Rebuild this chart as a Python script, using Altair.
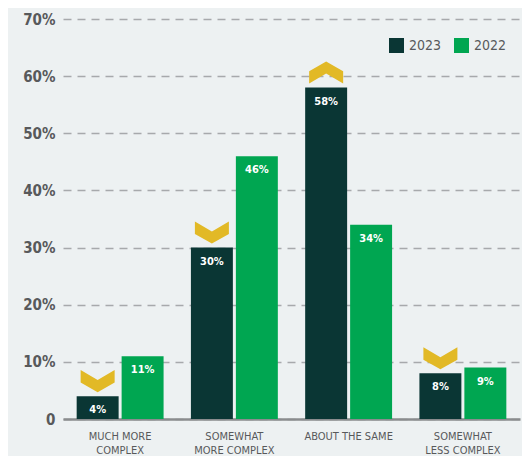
import altair as alt
import pandas as pd

categories = ["MUCH MORE|COMPLEX", "SOMEWHAT|MORE COMPLEX", "ABOUT THE SAME", "SOMEWHAT|LESS COMPLEX"]
years = ["2023", "2022"]
values_2023 = [4, 30, 58, 8]
values_2022 = [11, 46, 34, 9]

rows = []
for c, v23, v22 in zip(categories, values_2023, values_2022):
    rows.append({"Category": c, "Year": "2023", "Value": v23, "Other": v22})
    rows.append({"Category": c, "Year": "2022", "Value": v22, "Other": v23})
df = pd.DataFrame(rows)

FONT = "DejaVu Sans Condensed, sans-serif"
DARK = "#0a3634"
GREEN = "#00a651"
YELLOW = "#e2b926"
GREY = "#58595b"

down_path = "M-1,-0.65 L0,-0.06 L1,-0.65 L1,0.08 L0,0.65 L-1,0.08 Z"
up_path = "M-1,0.65 L0,0.06 L1,0.65 L1,-0.08 L0,-0.65 L-1,-0.08 Z"

x_enc = alt.X("Category:N", sort=categories,
              scale=alt.Scale(paddingInner=0, paddingOuter=0),
              axis=alt.Axis(title=None, labelAngle=0, labelExpr="split(datum.label, '|')",
                            labelFont=FONT, labelFontSize=11, labelColor=GREY,
                            labelPadding=11, labelLineHeight=14, ticks=False,
                            domainColor="#8a8c8e", domainWidth=2.5, grid=False,
                            labelBaseline="top"))
xo_enc = alt.XOffset("Year:N", sort=years,
                     scale=alt.Scale(domain=years, paddingInner=0.0667, paddingOuter=0.304))
y_enc = alt.Y("Value:Q", scale=alt.Scale(domain=[0, 70], nice=False),
              axis=alt.Axis(title=None, values=[0, 10, 20, 30, 40, 50, 60, 70],
                            labelExpr="datum.value == 0 ? '0' : datum.value + '%'",
                            labelFont=FONT, labelFontSize=15, labelFontWeight="bold",
                            labelColor=GREY, labelPadding=8, ticks=False, domain=False,
                            grid=True, gridDash=[8, 6], gridColor="#a7a9ac", gridWidth=1.5))

base = alt.Chart(df)

bars = base.mark_bar().encode(
    x=x_enc, xOffset=xo_enc, y=y_enc,
    color=alt.Color("Year:N", sort=years,
                    scale=alt.Scale(domain=years, range=[DARK, GREEN]),
                    legend=alt.Legend(title=None, orient="none", direction="horizontal",
                                      legendX=326, legendY=19, symbolType="square",
                                      symbolSize=225, symbolStrokeWidth=0,
                                      labelFont=FONT, labelFontSize=14, labelColor=GREY,
                                      columnPadding=12, labelOffset=5)),
)

labels = base.transform_calculate(lbl="datum.Value + '%'").mark_text(
    baseline="alphabetic", dy=17, color="white", font=FONT, fontSize=11, fontWeight="bold"
).encode(x=x_enc, xOffset=xo_enc, y=y_enc, text="lbl:N")

chevrons = base.transform_filter("datum.Year == '2023'").transform_calculate(
    dir="datum.Value < datum.Other ? 'down' : 'up'"
).mark_point(filled=True, size=1156, yOffset=-15, color=YELLOW, opacity=1, strokeWidth=0).encode(
    x=x_enc, xOffset=xo_enc, y=y_enc,
    shape=alt.Shape("dir:N", scale=alt.Scale(domain=["down", "up"], range=[down_path, up_path]),
                    legend=None),
)

chart = alt.layer(bars, labels, chevrons).properties(
    width=457, height=400, background="#edf1f2",
    padding={"left": 55, "top": 11, "right": 2, "bottom": 40},
    autosize=alt.AutoSizeParams(type="none"),
).configure_view(stroke=None)

chart.save("out.html", embed_options={"renderer": "svg", "actions": False})
